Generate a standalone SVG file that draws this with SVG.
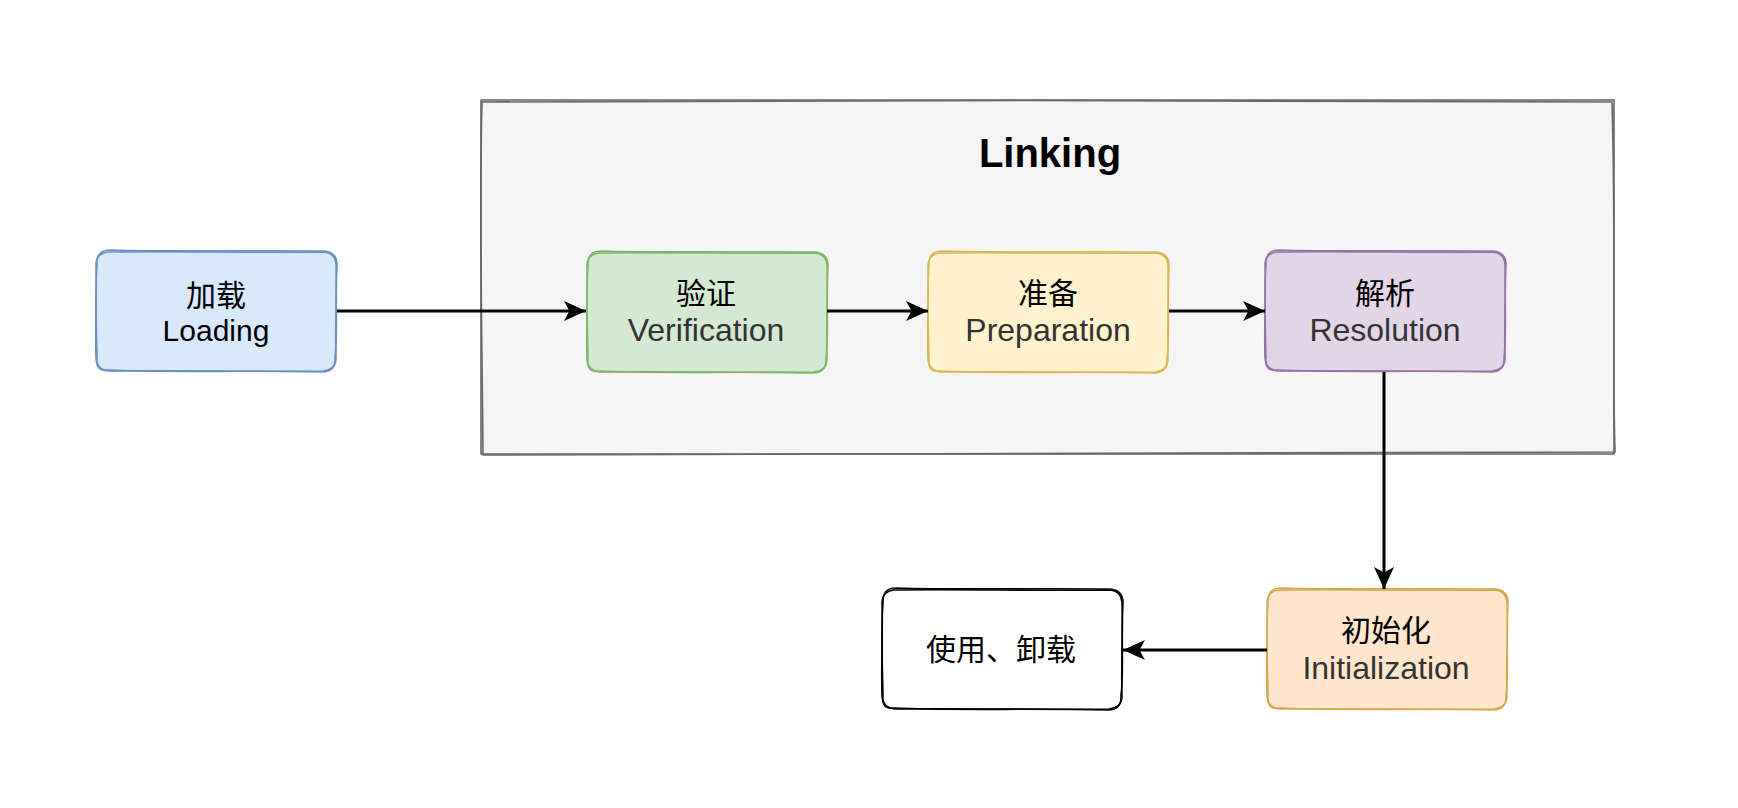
<svg xmlns="http://www.w3.org/2000/svg" xmlns:xlink="http://www.w3.org/1999/xlink" width="1738" height="808" viewBox="0 0 1738 808">
<style>
.t{font-family:"Liberation Sans","Noto Sans CJK SC",sans-serif;font-size:30px;text-anchor:middle}
.en{font-size:32px}
.dark{fill:#333333}
.blk{fill:#000000}
.title{font-family:"Liberation Sans","Noto Sans CJK SC",sans-serif;font-size:40px;font-weight:bold;text-anchor:middle;fill:#000}
.sk{fill:none;stroke-width:1.6;stroke-linejoin:round;stroke-linecap:round}
.edge{fill:none;stroke:#000;stroke-width:3}
</style>
<defs>
<path id="skA" d="M12,1 C70,0 170,2 228,1 Q239,2 240,13 C241,45 239,80 240,108 Q239,119 227,120 C160,121 80,119 13,120 Q1,119 0,107 C-1,75 1,40 0,13 Q1,2 12,1 Z"/>
<path id="skB" d="M14,-1 C80,1 160,-1 226,0 Q241,0 241,14 C239,50 242,85 239,106 Q240,121 226,121 C150,119 70,122 12,119 Q-1,121 1,106 C0,70 -1,35 1,14 Q0,-1 14,-1"/>
<marker id="arr" markerUnits="userSpaceOnUse" markerWidth="22" markerHeight="20" viewBox="0 0 22 20" refX="22" refY="10" orient="auto">
<path d="M0,0 L22,10 L0,20 L5.5,10 Z" fill="#000"/>
</marker>
</defs>
<rect width="1738" height="808" fill="#ffffff"/>

<g id="linking">
<rect x="481" y="100" width="1133" height="354" fill="#f5f5f5"/>
<path class="sk" stroke="#666666" d="M481,100 C800,101 1300,99 1614,100 C1615,220 1613,340 1614,454 C1200,453 800,455 481,454 C480,340 482,220 481,100 Z"/>
<path class="sk" stroke="#666666" d="M482,102 C820,99 1280,101 1612,102 C1616,230 1612,350 1615,452 C1180,456 780,452 483,455 C482,330 479,210 482,102"/>
<text class="title" x="1050" y="167">Linking</text>
</g>

<g id="loading">
<rect x="95" y="251" width="242" height="121" rx="12" fill="#dae8fc"/>
<use xlink:href="#skA" class="sk" stroke="#6c8ebf" transform="translate(96,251)"/>
<use xlink:href="#skB" class="sk" stroke="#6c8ebf" transform="translate(96,251)"/>
<text class="t blk" x="216" y="306">加载</text>
<text class="t blk" x="216" y="341">Loading</text>
</g>

<g id="verification">
<rect x="586" y="252" width="241" height="121" rx="12" fill="#d5e8d4"/>
<use xlink:href="#skA" class="sk" stroke="#82b366" transform="translate(587,252)"/>
<use xlink:href="#skB" class="sk" stroke="#82b366" transform="translate(587,252)"/>
<text class="t blk" x="706" y="304">验证</text>
<text class="t en dark" x="706" y="341">Verification</text>
</g>

<g id="preparation">
<rect x="928" y="252" width="241" height="121" rx="12" fill="#fff2cc"/>
<use xlink:href="#skA" class="sk" stroke="#d6b656" transform="translate(928,252)"/>
<use xlink:href="#skB" class="sk" stroke="#d6b656" transform="translate(928,252)"/>
<text class="t blk" x="1048" y="304">准备</text>
<text class="t en dark" x="1048" y="341">Preparation</text>
</g>

<g id="resolution">
<rect x="1265" y="251" width="241" height="121" rx="12" fill="#e1d5e7"/>
<use xlink:href="#skA" class="sk" stroke="#9673a6" transform="translate(1265,251)"/>
<use xlink:href="#skB" class="sk" stroke="#9673a6" transform="translate(1265,251)"/>
<text class="t blk" x="1385" y="304">解析</text>
<text class="t en dark" x="1385" y="341">Resolution</text>
</g>

<g id="initialization">
<rect x="1267" y="589" width="239" height="120" rx="12" fill="#ffe6cc"/>
<use xlink:href="#skA" class="sk" stroke="#d6a84a" transform="translate(1267,589)"/>
<use xlink:href="#skB" class="sk" stroke="#d6a84a" transform="translate(1267,589)"/>
<text class="t blk" x="1386" y="641">初始化</text>
<text class="t en dark" x="1386" y="679">Initialization</text>
</g>

<g id="use-unload">
<rect x="882" y="589" width="241" height="120" rx="12" fill="#ffffff"/>
<use xlink:href="#skA" class="sk" stroke="#000000" transform="translate(882,589)"/>
<use xlink:href="#skB" class="sk" stroke="#000000" transform="translate(882,589)"/>
<text class="t blk" x="1001" y="660">使用、卸载</text>
</g>

<g id="connectors">
<path class="edge" d="M337,311 L586,311" marker-end="url(#arr)"/>
<path class="edge" d="M827,311 L928,311" marker-end="url(#arr)"/>
<path class="edge" d="M1169,311 L1265,311" marker-end="url(#arr)"/>
<path class="edge" d="M1384,372 L1384,589" marker-end="url(#arr)"/>
<path class="edge" d="M1267,650 L1123,650" marker-end="url(#arr)"/>
</g>
</svg>
